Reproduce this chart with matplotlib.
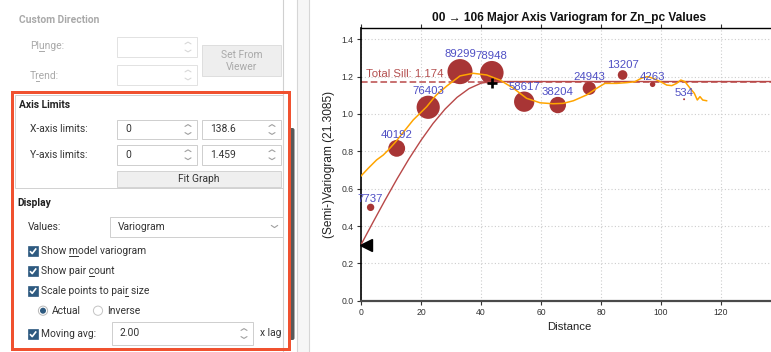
import numpy as np
import matplotlib
matplotlib.use("Agg")
import matplotlib.pyplot as plt
from matplotlib.patches import Rectangle, Circle, FancyBboxPatch
from matplotlib.transforms import ScaledTranslation

# ---------------- data ----------------
lag_dist = [3.2, 11.9, 22.4, 33.0, 43.6, 54.4, 65.6, 76.1, 87.2, 97.2, 107.7]
lag_gamma = [0.50, 0.816, 1.036, 1.227, 1.221, 1.066, 1.048, 1.138, 1.209, 1.159, 1.079]
pair_count = [7737, 40192, 76403, 89299, 78948, 58617, 38204, 24943, 13207, 4263, 534]

mavg_x = [0, 2.4, 5.2, 7.4, 9.1, 11.5, 14.5, 17.4, 21.9, 25.0, 28.6, 33.0, 37.4, 41.9,
          46.3, 50.8, 55.2, 59.7, 64.0, 67.4, 70.8, 75.2, 78.6, 81.3, 85.2, 88.6, 91.3,
          93.5, 95.5, 97.4, 100.2, 101.9, 103.6, 105.2, 106.6, 108.0, 109.7, 111.1,
          112.1, 113.0, 113.9, 115.2]
mavg_y = [0.668, 0.709, 0.754, 0.780, 0.807, 0.850, 0.910, 0.968, 1.039, 1.100, 1.150,
          1.204, 1.218, 1.209, 1.182, 1.138, 1.084, 1.060, 1.055, 1.057, 1.071, 1.102,
          1.138, 1.164, 1.164, 1.168, 1.173, 1.192, 1.200, 1.191, 1.170, 1.155, 1.152,
          1.164, 1.182, 1.173, 1.138, 1.111, 1.075, 1.093, 1.075, 1.071]

model_x = [0, 4, 8, 12, 16, 20, 24, 28, 32, 36, 40, 43.6, 138.6]
model_y = [0.300, 0.420, 0.538, 0.652, 0.760, 0.859, 0.949, 1.026, 1.089, 1.136, 1.165,
           1.174, 1.174]

total_sill = 1.174
nugget = 0.300
range_x, range_y = 43.6, 1.168
x_limits = (0, 138.6)
y_limits = (0, 1.459)
x_ticks = [0, 20, 40, 60, 80, 100, 120]
y_ticks = [0.0, 0.2, 0.4, 0.6, 0.8, 1.0, 1.2, 1.4]

W, H = 771, 352
fig = plt.figure(figsize=(W / 100, H / 100), dpi=100)
fig.patch.set_facecolor("white")
renderer = fig.canvas.get_renderer()

# ---------------- UI panel ----------------
ui = fig.add_axes([0, 0, 1, 1], zorder=0)
ui.set_xlim(0, W)
ui.set_ylim(H, 0)
ui.axis("off")
PX = 0.72  # points per pixel
UIF = ["Roboto", "DejaVu Sans"]
FS = 7.4
ENA = "#333333"
DIS = "#a9a9a9"


def rect(x0, y0, x1, y1, fc="white", ec="#c8c8c8", lw=1.0, z=1):
    ui.add_patch(Rectangle((x0, y0), x1 - x0, y1 - y0, fc=fc, ec=ec, lw=lw * PX, zorder=z))


def txt(x, y, s, color=ENA, bold=False, ha="left", size=FS, ul=None):
    t = ui.text(x, y, s, color=color, fontsize=size, family=UIF, ha=ha, va="center",
                fontweight="bold" if bold else "normal", zorder=5)
    if ul is not None:
        # underline the mnemonic character at index ul
        def width(sub):
            if not sub:
                return 0.0
            tmp = ui.text(0, 0, sub, fontsize=size, family=UIF)
            w = tmp.get_window_extent(renderer=renderer).width
            tmp.remove()
            return w
        x0 = x + width(s[:ul])
        x1 = x + width(s[:ul + 1])
        ui.plot([x0 + 0.3, x1 - 0.3], [y + 5.2, y + 5.2], color=color, lw=0.7, zorder=5)
    return t


def chev(xc, yc, up=True, color="#b0b0b0", w=3.0, h=1.8):
    d = -h if up else h
    ui.plot([xc - w, xc, xc + w], [yc - d / 2, yc + d / 2, yc - d / 2], color=color,
            lw=0.8, zorder=6, solid_capstyle="round")


def spin(x0, y0, x1, y1, s="", enabled=True):
    rect(x0, y0, x1, y1, fc="white", ec="#cfcfcf" if enabled else "#e2e2e2")
    if s:
        txt(x0 + 8, (y0 + y1) / 2, s, color=ENA if enabled else DIS)
    yc = (y0 + y1) / 2
    c = "#a0a0a0" if enabled else "#d8d8d8"
    chev(x1 - 9, yc - 4, up=True, color=c)
    chev(x1 - 9, yc + 4, up=False, color=c)


def checkbox(x, y):
    ui.add_patch(Rectangle((x, y - 5), 10, 10, fc="#2e5a80", ec="#2e5a80", lw=0.5, zorder=5))
    ui.plot([x + 2, x + 4.2, x + 8.2], [y + 0.2, y + 2.6, y - 2.6], color="white",
            lw=1.2, zorder=6, solid_capstyle="butt")


# vertical separators / panel background
ui.add_patch(Rectangle((297, 0), 12, H, fc="#f6f6f6", ec="none", zorder=0))
ui.plot([283, 283], [0, H], color="#d0d0d0", lw=0.8, zorder=1)
ui.plot([297, 297], [0, H], color="#d6d6d6", lw=0.8, zorder=1)
ui.plot([309, 309], [0, H], color="#d6d6d6", lw=0.8, zorder=1)
# scrollbar thumb
ui.add_patch(FancyBboxPatch((289.5, 128), 5, 212, boxstyle="round,pad=0,rounding_size=2",
                            fc="#5a5a5a", ec="none", zorder=2))

# custom direction (disabled)
txt(19, 20, "Custom Direction", color=DIS, bold=True)
txt(30, 46, "Plunge:", color=DIS, ul=2)
spin(117, 37, 197, 57, enabled=False)
txt(30, 76, "Trend:", color=DIS, ul=1)
spin(117, 65, 197, 85, enabled=False)
rect(202, 45, 281, 76, fc="#eeeeee", ec="#dedede")
txt(241.5, 55, "Set From", color=DIS, ha="center")
txt(241.5, 66.5, "Viewer", color=DIS, ha="center")

# axis limits group
rect(15, 95, 283, 188, fc="none", ec="#d2d2d2", z=1)
txt(19, 105.5, "Axis Limits", bold=True, color="#222222")
txt(30, 129, "X-axis limits:")
spin(117, 120, 197, 139, "0")
spin(202, 120, 281, 139, "138.6")
txt(30, 155, "Y-axis limits:")
spin(117, 145, 197, 164.5, "0")
spin(202, 145, 281, 164.5, "1.459")
rect(117, 170.5, 281, 187, fc="#efefef", ec="#d4d4d4")
txt(199, 179, "Fit Graph", ha="center")

# display group
txt(17, 203.5, "Display", bold=True, color="#222222")
txt(28, 226.5, "Values:")
rect(110, 216.5, 282.5, 237, fc="white", ec="#d0d0d0")
txt(118, 226.5, "Variogram")
chev(274.5, 226.5, up=False, color="#a0a0a0", w=3.2, h=2.2)
checkbox(28, 251)
txt(41, 251, "Show model variogram", ul=5)
checkbox(28, 271)
txt(41, 271, "Show pair count", ul=10)
checkbox(28, 290.7)
txt(41, 290.7, "Scale points to pair size", ul=19)
ui.add_patch(Circle((43, 310.7), 4.6, fc="white", ec="#b8b8b8", lw=0.7, zorder=5))
ui.add_patch(Circle((43, 310.7), 3.0, fc="#2e5a80", ec="none", zorder=6))
txt(52, 310.7, "Actual")
ui.add_patch(Circle((98, 310.7), 4.6, fc="white", ec="#c4c4c4", lw=0.7, zorder=5))
txt(107, 310.7, "Inverse")
checkbox(28, 334)
txt(41, 334, "Moving avg:")
spin(112, 322, 253, 345, "2.00")
txt(260, 333, "x lag")

# red highlight
ui.add_patch(Rectangle((12, 92), 277, 257, fc="none", ec="#f0512f", lw=3.0 * PX, zorder=7))

# ---------------- chart ----------------
CF = ["Liberation Sans", "DejaVu Sans"]
left_px, bottom_px = 361.0, 300.7
px_per_x = 3.0
px_per_y = 186.7
ax_w = (x_limits[1] - x_limits[0]) * px_per_x
ax_h = (y_limits[1] - y_limits[0]) * px_per_y
ax = fig.add_axes([left_px / W, (H - bottom_px) / H, ax_w / W, ax_h / H], zorder=2)
ax.set_facecolor("white")
ax.set_xlim(*x_limits)
ax.set_ylim(*y_limits)
ax.set_xticks(x_ticks)
ax.set_yticks(y_ticks)
ax.set_xticklabels([str(t) for t in x_ticks], family=CF)
ax.set_yticklabels([f"{t:.1f}" for t in y_ticks], family=CF)
ax.tick_params(axis="both", labelsize=6.2, colors="#333333", length=3, width=0.8, pad=2.5,
               direction="out")
ax.tick_params(axis="x", top=True, labeltop=False)
ax.grid(True, color="#cdcdcd", lw=0.8, ls=(0, (1, 2)))
ax.set_axisbelow(True)
ax.spines["bottom"].set_color("#4a4a4a")
ax.spines["bottom"].set_linewidth(1.6)
ax.spines["left"].set_color("black")
ax.spines["left"].set_linewidth(1.2)
ax.spines["top"].set_color("black")
ax.spines["top"].set_linewidth(1.0)
ax.spines["right"].set_color("black")

ax.set_title("00 \u2192 106 Major Axis Variogram for Zn_pc Values", family=CF,
             fontweight="bold", fontsize=8.6, pad=5.0, color="#111111")
ax.set_xlabel("Distance", family=CF, fontsize=8.2, labelpad=3, color="#222222")
ax.set_ylabel("(Semi-)Variogram (21.3085)", family=CF, fontsize=8.6, labelpad=4.5,
              color="#222222")

# sill
ax.axhline(total_sill, color="#c87070", lw=1.4, ls=(0, (3.4, 1.6)), zorder=2)
ax.annotate(f"Total Sill: {total_sill}", xy=(0, total_sill), xytext=(3.5, 3.4),
            textcoords="offset points", ha="left", va="baseline", family=CF,
            fontsize=8.2, color="#b45050", zorder=6)

# points
k = 0.00365
sizes = [c * k for c in pair_count]
ax.scatter(lag_dist, lag_gamma, s=sizes, color="#a83535", edgecolors="none", zorder=3)

# model & moving average
ax.plot(model_x, model_y, color="#b84848", lw=1.0, zorder=4)
ax.plot(mavg_x, mavg_y, color="#ffa500", lw=1.1, zorder=4)

# labels
for xv, yv, c, s in zip(lag_dist, lag_gamma, pair_count, sizes):
    off = np.sqrt(s) / 2 + 3.6
    ax.annotate(str(c), xy=(xv, yv), xytext=(0, off), textcoords="offset points",
                ha="center", va="center", family=CF, fontsize=8.2, color="#4f4fc4", zorder=6)

# nugget and range markers
shift = ScaledTranslation(3.6 / 72, 0, fig.dpi_scale_trans)
ax.plot([0], [nugget], marker="<", ms=8, color="black", transform=ax.transData + shift,
        clip_on=False, zorder=7, ls="none")
ax.plot([range_x], [range_y], marker="+", ms=7.5, mew=1.9, color="black", zorder=7, ls="none")

fig.savefig("out.png", dpi=100, facecolor="white")
